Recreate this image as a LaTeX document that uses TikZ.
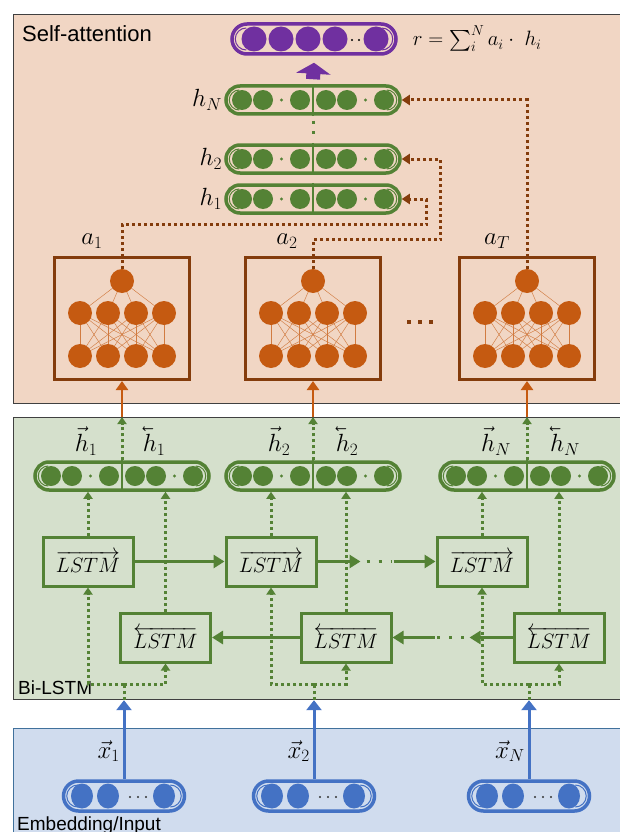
\documentclass[tikz,border=0pt]{standalone}
\usepackage{amsmath}
\usepackage{fontspec}
\setmainfont{Liberation Sans}
\usepackage{tikz}
\usetikzlibrary{arrows.meta,positioning,shapes.misc}
\definecolor{attnbg}{HTML}{F1D6C4}
\definecolor{lstmbg}{HTML}{D5E0CC}
\definecolor{embbg}{HTML}{D0DCEE}
\definecolor{embline}{HTML}{41719C}
\definecolor{leaf}{HTML}{548235}
\definecolor{rust}{HTML}{843C0C}
\definecolor{amber}{HTML}{C55A11}
\definecolor{plum}{HTML}{7030A0}
\definecolor{sky}{HTML}{4472C4}

% pill with a thick rim and thin inner ends: name, centre, width, height, colour
\newcommand{\vecpill}[5]{%
  \node[pill,draw=#5,minimum width=#3pt,minimum height=#4pt] (#1) at (#2) {};
  \draw[#5,line width=1pt] ([shift={({#4/2+1},{#4/2-4})}]#1.west) arc (90:270:{#4/2-4});
  \draw[#5,line width=1pt] ([shift={({-#4/2-1},{-#4/2+4})}]#1.east) arc (-90:90:{#4/2-4});
}
% two-half hidden state vector
\newcommand{\bivector}[3]{%
  \vecpill{#1}{#2,#3}{174}{28}{leaf}
  \draw[leaf,line width=2pt] (#1.north) -- (#1.south);
  \foreach \d in {-71,-50,-13,13,34,71} \fill[leaf] (#2+\d,#3) circle (10pt);
  \foreach \d in {-31.5,52.5} \fill[leaf] (#2+\d,#3) circle (1.6pt);
}
% small scoring network in a box
\newcommand{\attnnet}[2]{%
  \node[net] (att#1) at (#2,-318.5) {};
  \foreach \i in {-42,-14,14,42}{%
    \draw[amber!80,line width=0.45pt] (#2,-281) -- (#2+\i,-313);
    \foreach \j in {-42,-14,14,42}
      \draw[amber!80,line width=0.45pt] (#2+\i,-313) -- (#2+\j,-356);
  }
  \foreach \i in {-42,-14,14,42}
    \fill[amber] (#2+\i,-313) circle (12pt) (#2+\i,-356) circle (12pt);
  \node[neuron] (top#1) at (#2,-281) {};
}
\newcommand{\fw}[1]{{\vec{#1}}}
\newcommand{\bw}[1]{{\reflectbox{$\vec{\reflectbox{$#1$}}$}}}

\begin{document}
\begin{tikzpicture}[x=1pt,y=1pt,
  panel/.style={draw=black!75,line width=1.2pt,anchor=north west,inner sep=0pt,minimum width=620pt},
  layername/.style={anchor=west,inner sep=0pt,font=\fontsize{19}{22}\selectfont},
  lbl/.style={inner sep=1pt,font=\fontsize{23}{27}\selectfont},
  pill/.style={rounded rectangle,line width=3.5pt,inner sep=0pt},
  net/.style={draw=rust,line width=3pt,minimum width=135pt,minimum height=122pt},
  neuron/.style={circle,fill=amber,minimum size=24pt,inner sep=0pt},
  cell/.style={draw=leaf,line width=3pt,minimum width=90pt,minimum height=49pt,
               inner sep=0pt,font=\fontsize{20}{24}\selectfont},
  gdot/.style={leaf,line width=3pt,dash pattern=on 3pt off 3pt},
  gtip/.style={gdot,-{Triangle[length=7pt,width=9pt]}},
  bdot/.style={rust,line width=3pt,dash pattern=on 3pt off 3pt,-{Triangle[length=8pt,width=10pt]}},
  flow/.style={leaf,line width=3pt,-{Triangle[length=11pt,width=13pt]}},
  skip/.style={leaf,line width=3pt,dash pattern=on 3pt off 9pt},
  lift/.style={amber,line width=2.5pt,-{Triangle[length=9pt,width=12pt]}},
  feed/.style={sky,line width=3pt,-{Triangle[length=10pt,width=15pt]}},
  fat/.style={plum,line width=14pt,-{Triangle[length=11pt,width=34pt]}},
]
\useasboundingbox (0,0) rectangle (620,-832);

% ---- top: self-attention
\node[panel,fill=attnbg,minimum height=389pt] (attn) at (13,-14) {};
\node[layername,font=\fontsize{22}{26}\selectfont] (attnname) at (22,-34) {Self-attention};

\vecpill{rvec}{314,-39}{164}{30}{plum}
\foreach \d in {-60,-33,-6,21,62} \fill[plum] (314+\d,-39) circle (12.5pt);
\foreach \d in {38,45} \fill[black] (314+\d,-40) circle (1.2pt);
\node[lbl,anchor=west,font=\fontsize{21}{25}\selectfont] (rsum) at ([xshift=14pt]rvec.east)
  {$r=\sum_i^N a_i\cdot\ h_i$};

\bivector{hN}{313}{-100}
\bivector{h2}{313}{-159}
\bivector{h1}{313}{-199}
\node[lbl,anchor=east] (lhN) at ([xshift=-1pt]hN.west) {$h_N$};
\node[lbl,anchor=east] (lh2) at ([xshift=-1pt]h2.west) {$h_2$};
\node[lbl,anchor=east] (lh1) at ([xshift=-1pt]h1.west) {$h_1$};
\draw[fat] ([yshift=5pt]hN.north) -- ([yshift=-7pt]rvec.south);
\draw[gdot,dash pattern=on 3pt off 7.5pt] ([yshift=-5pt]hN.south) -- ([yshift=3pt]h2.north);

\attnnet{1}{122}
\attnnet{2}{313}
\attnnet{3}{527}
\node[lbl] (la1) at ([shift={(-30,40)}]top1.center) {$a_1$};
\node[lbl] (la2) at ([shift={(-26,40)}]top2.center) {$a_2$};
\node[lbl] (la3) at ([shift={(-30,40)}]top3.center) {$a_T$};
\foreach \d in {409,420,431} \fill[rust] (\d-1.8,-323.5) rectangle ++(3.6,3.6);

\draw[bdot] (top1.north) -- ++(0,44) -| ([xshift=25pt]h1.east) -- (h1.east);
\draw[bdot] (top2.north) -- ++(0,29) -| ([xshift=39pt]h2.east) -- (h2.east);
\draw[bdot] (top3.north) |- (hN.east);

% ---- middle: Bi-LSTM
\node[panel,fill=lstmbg,minimum height=282pt] (lstm) at (13,-417) {};
\node[layername] (lstmname) at (18,-688) {Bi-LSTM};

\bivector{bi1}{122}{-476}
\bivector{bi2}{313}{-476}
\bivector{bi3}{527}{-476}
\node[lbl] (lf1) at ([shift={(-36,35)}]bi1.center) {$\fw{h}_1$};
\node[lbl] (lb1) at ([shift={(32,35)}]bi1.center) {$\bw{h}_1$};
\node[lbl] (lf2) at ([shift={(-34,35)}]bi2.center) {$\fw{h}_2$};
\node[lbl] (lb2) at ([shift={(34,35)}]bi2.center) {$\bw{h}_2$};
\node[lbl] (lf3) at ([shift={(-31,35)}]bi3.center) {$\fw{h}_N$};
\node[lbl] (lb3) at ([shift={(38,35)}]bi3.center) {$\bw{h}_N$};

\node[cell] (f1) at (88,-561.5) {$\overrightarrow{LSTM}$};
\node[cell] (f2) at (271,-561.5) {$\overrightarrow{LSTM}$};
\node[cell] (f3) at (482,-561.5) {$\overrightarrow{LSTM}$};
\node[cell] (b1) at (165.5,-637.5) {$\overleftarrow{LSTM}$};
\node[cell] (b2) at (346,-637.5) {$\overleftarrow{LSTM}$};
\node[cell] (b3) at (559,-637.5) {$\overleftarrow{LSTM}$};

\draw[flow] (f1) -- (f2);
\draw[flow] (f2.east) -- ++(43,0);
\draw[skip] ([xshift=49pt]f2.east) -- ([xshift=-44pt]f3.west);
\draw[flow] ([xshift=-42pt]f3.west) -- (f3.west);
\draw[flow] (b3.west) -- ++(-43,0);
\draw[skip] ([xshift=-49pt]b3.west) -- ([xshift=44pt]b2.east);
\draw[flow] ([xshift=42pt]b2.east) -- (b2.east);
\draw[flow] (b2) -- (b1);

\foreach \k in {1,2,3}{
  \draw[gtip] (f\k.north) -- (f\k.north |- bi\k.south);
  \draw[gtip] (b\k.north) -- (b\k.north |- bi\k.south);
  \draw[gtip] (bi\k.north) -- (bi\k.north |- lstm.north);
  \draw[lift] (bi\k.north |- lstm.north) -- (att\k.south);
}

% ---- bottom: embedding / input
\node[panel,fill=embbg,draw=embline,minimum height=120pt] (emb) at (13,-728) {};
\node[layername] (embname) at (17,-826) {Embedding/Input};

\foreach \k/\x/\s in {1/124/1,2/314/2,3/529/N}{
  \vecpill{in\k}{\x,-796}{121}{30}{sky}
  \foreach \d in {-42,-16,40} \fill[sky] (\x+\d,-796) ellipse (11pt and 12.5pt);
  \foreach \d in {6,14,22} \fill[black!80] (\x+\d,-797) circle (1.2pt);
  \node[lbl,anchor=east] (lx\k) at ([shift={(-3,28)}]in\k.north) {$\vec{x}_\s$};
  \draw[feed] (in\k.north) -- (in\k.north |- lstm.south);
  \draw[gdot] (in\k.north |- lstm.south) -- ++(0,16) coordinate (j\k);
  \draw[gtip] (j\k) -| (f\k.south);
  \draw[gtip] (j\k) -| (b\k.south);
}
\end{tikzpicture}
\end{document}
